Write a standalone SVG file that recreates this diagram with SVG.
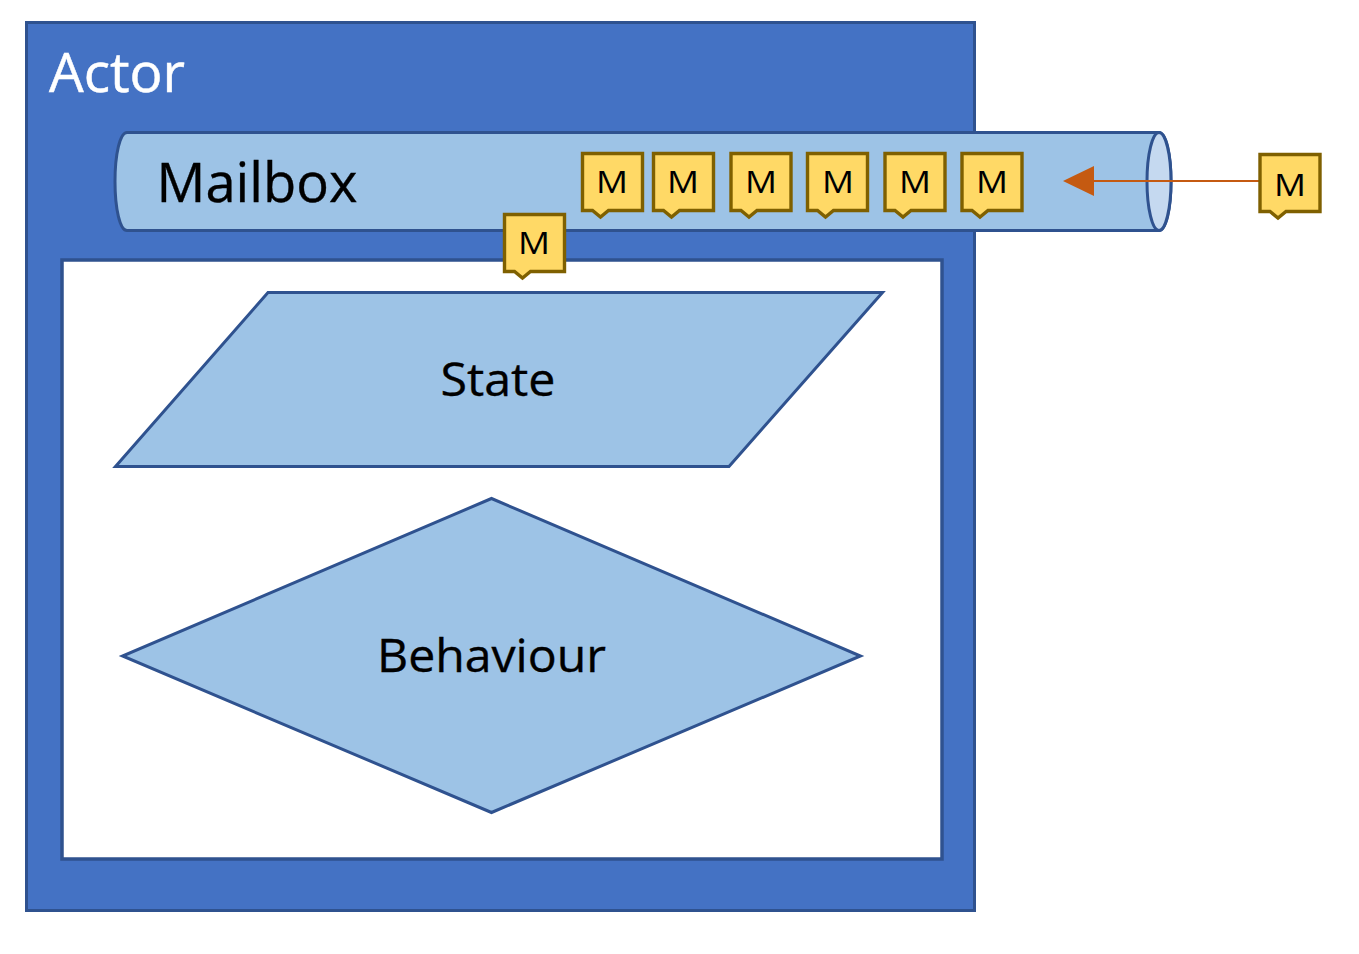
<svg xmlns="http://www.w3.org/2000/svg" width="1359" height="954" viewBox="0 0 1359 954">
<style>
text{font-family:"Open Sans","Noto Sans","Liberation Sans",sans-serif}
.b{fill:#9dc3e6;stroke:#2f528f;stroke-width:3}
.t{fill:#000;text-anchor:middle;stroke:#000;stroke-width:.35}
.c{fill:#ffd966;stroke:#7f6000;stroke-width:3.400;stroke-linejoin:miter}
.m{font-size:31px;fill:#000;text-anchor:middle}
</style>
<defs>
<path id="callout" d="M0 0H60V57H26L18 63.500L10 57H0Z" class="c"/>
</defs>
<rect width="1359" height="954" fill="#fff"/>
<g id="actor">
<rect x="26.500" y="22.500" width="948" height="888" fill="#4472c4" stroke="#2f528f" stroke-width="3"/>
<text x="49" y="92" font-size="54" fill="#fff" stroke="#fff" stroke-width=".5" textLength="136" lengthAdjust="spacingAndGlyphs">Actor</text>
</g>
<g id="inner">
<rect x="62" y="260" width="880" height="599" fill="#fff" stroke="#2f528f" stroke-width="3.500"/>
</g>
<g id="mailbox">
<path class="b" d="M127 132.500H1159C1166 132.500 1171 154 1171 181.500C1171 209 1166 230.500 1159 230.500H127C120 230.500 115 209 115 181.500C115 154 120 132.500 127 132.500Z"/>
<ellipse cx="1159" cy="181.500" rx="12" ry="49" fill="#c5d9f0" stroke="#2f528f" stroke-width="3"/>
<text class="t" x="257" y="202" font-size="54" textLength="201" lengthAdjust="spacingAndGlyphs">Mailbox</text>
</g>
<g id="state">
<path class="b" d="M268 292.500H882.500L729 466.500H115.500Z"/>
<text class="t" x="498" y="396" font-size="46" textLength="115" lengthAdjust="spacingAndGlyphs">State</text>
</g>
<g id="behaviour">
<path class="b" d="M491.500 498.500L860.500 656L491.500 812.500L122.500 656Z"/>
<text class="t" x="491.500" y="672" font-size="46" textLength="229" lengthAdjust="spacingAndGlyphs">Behaviour</text>
</g>
<g id="connectors">
<path d="M1259 181H1090" fill="none" stroke="#c55a11" stroke-width="1.800"/>
<path d="M1063 181L1094 166V196Z" fill="#c55a11"/>
</g>
<g id="msg1"><use href="#callout" x="582.500" y="153.500"/><text class="m" x="612" y="193" textLength="32" lengthAdjust="spacingAndGlyphs">M</text></g>
<g id="msg2"><use href="#callout" x="653.500" y="153.500"/><text class="m" x="683" y="193" textLength="32" lengthAdjust="spacingAndGlyphs">M</text></g>
<g id="msg3"><use href="#callout" x="731" y="153.500"/><text class="m" x="761" y="193" textLength="32" lengthAdjust="spacingAndGlyphs">M</text></g>
<g id="msg4"><use href="#callout" x="807.500" y="153.500"/><text class="m" x="838" y="193" textLength="32" lengthAdjust="spacingAndGlyphs">M</text></g>
<g id="msg5"><use href="#callout" x="885" y="153.500"/><text class="m" x="915" y="193" textLength="32" lengthAdjust="spacingAndGlyphs">M</text></g>
<g id="msg6"><use href="#callout" x="962" y="153.500"/><text class="m" x="992" y="193" textLength="32" lengthAdjust="spacingAndGlyphs">M</text></g>
<g id="msg7"><use href="#callout" x="504.500" y="214.500"/><text class="m" x="534" y="254" textLength="32" lengthAdjust="spacingAndGlyphs">M</text></g>
<g id="msg8"><use href="#callout" x="1260" y="154.500"/><text class="m" x="1290" y="195.500" textLength="32" lengthAdjust="spacingAndGlyphs">M</text></g>
</svg>
